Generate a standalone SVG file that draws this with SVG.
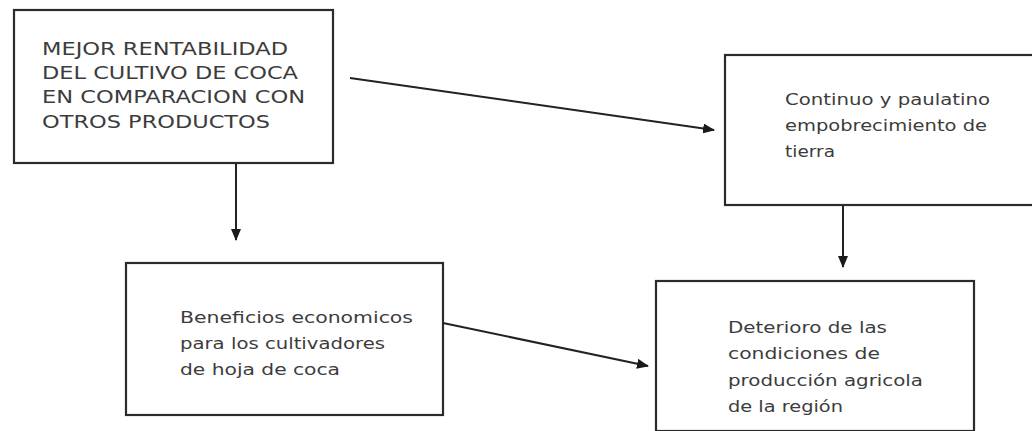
<svg xmlns="http://www.w3.org/2000/svg" width="1032" height="431" viewBox="0 0 1032 431">
<style>
.box{fill:#fff;stroke:#2b2b2b;stroke-width:2.2}
.t{font-family:"DejaVu Sans","Liberation Sans",sans-serif;fill:#3c3c3c;lengthAdjust:spacingAndGlyphs}
.caps{font-size:17.5px}
.low{font-size:16.5px}
.conn{stroke:#222;stroke-width:2;fill:none;marker-end:url(#ah)}
</style>
<defs>
<marker id="ah" markerUnits="userSpaceOnUse" markerWidth="12" markerHeight="10" refX="11" refY="5" orient="auto">
<path d="M0,0 L12,5 L0,10 Z" fill="#1a1a1a"/>
</marker>
</defs>
<rect width="1032" height="431" fill="#fff"/>
<g id="node-mejor">
<rect class="box" x="14" y="10" width="319" height="153"/>
<text class="t caps" x="42" y="55" textLength="246" lengthAdjust="spacingAndGlyphs">MEJOR RENTABILIDAD</text>
<text class="t caps" x="42" y="79" textLength="256" lengthAdjust="spacingAndGlyphs">DEL CULTIVO DE COCA</text>
<text class="t caps" x="42" y="103" textLength="263" lengthAdjust="spacingAndGlyphs">EN COMPARACION CON</text>
<text class="t caps" x="42" y="128" textLength="228" lengthAdjust="spacingAndGlyphs">OTROS PRODUCTOS</text>
</g>
<g id="node-continuo">
<rect class="box" x="725" y="55" width="320" height="150"/>
<text class="t low" x="785" y="105" textLength="205" lengthAdjust="spacingAndGlyphs">Continuo y paulatino</text>
<text class="t low" x="785" y="131" textLength="202" lengthAdjust="spacingAndGlyphs">empobrecimiento de</text>
<text class="t low" x="785" y="157" textLength="50" lengthAdjust="spacingAndGlyphs">tierra</text>
</g>
<g id="node-beneficios">
<rect class="box" x="126" y="263" width="317" height="152"/>
<text class="t low" x="180" y="323" textLength="233" lengthAdjust="spacingAndGlyphs">Beneficios economicos</text>
<text class="t low" x="180" y="349" textLength="205" lengthAdjust="spacingAndGlyphs">para los cultivadores</text>
<text class="t low" x="180" y="375" textLength="160" lengthAdjust="spacingAndGlyphs">de hoja de coca</text>
</g>
<g id="node-deterioro">
<rect class="box" x="656" y="281" width="318" height="150"/>
<text class="t low" x="728" y="333" textLength="159" lengthAdjust="spacingAndGlyphs">Deterioro de las</text>
<text class="t low" x="728" y="359" textLength="152" lengthAdjust="spacingAndGlyphs">condiciones de</text>
<text class="t low" x="728" y="386" textLength="195" lengthAdjust="spacingAndGlyphs">producción agricola</text>
<text class="t low" x="728" y="412" textLength="115" lengthAdjust="spacingAndGlyphs">de la región</text>
</g>
<g id="connectors">
<line class="conn" x1="236" y1="164" x2="236" y2="240"/>
<line class="conn" x1="350" y1="78" x2="714" y2="130"/>
<line class="conn" x1="843" y1="206" x2="843" y2="267"/>
<line class="conn" x1="443" y1="323" x2="648" y2="366"/>
</g>
</svg>
